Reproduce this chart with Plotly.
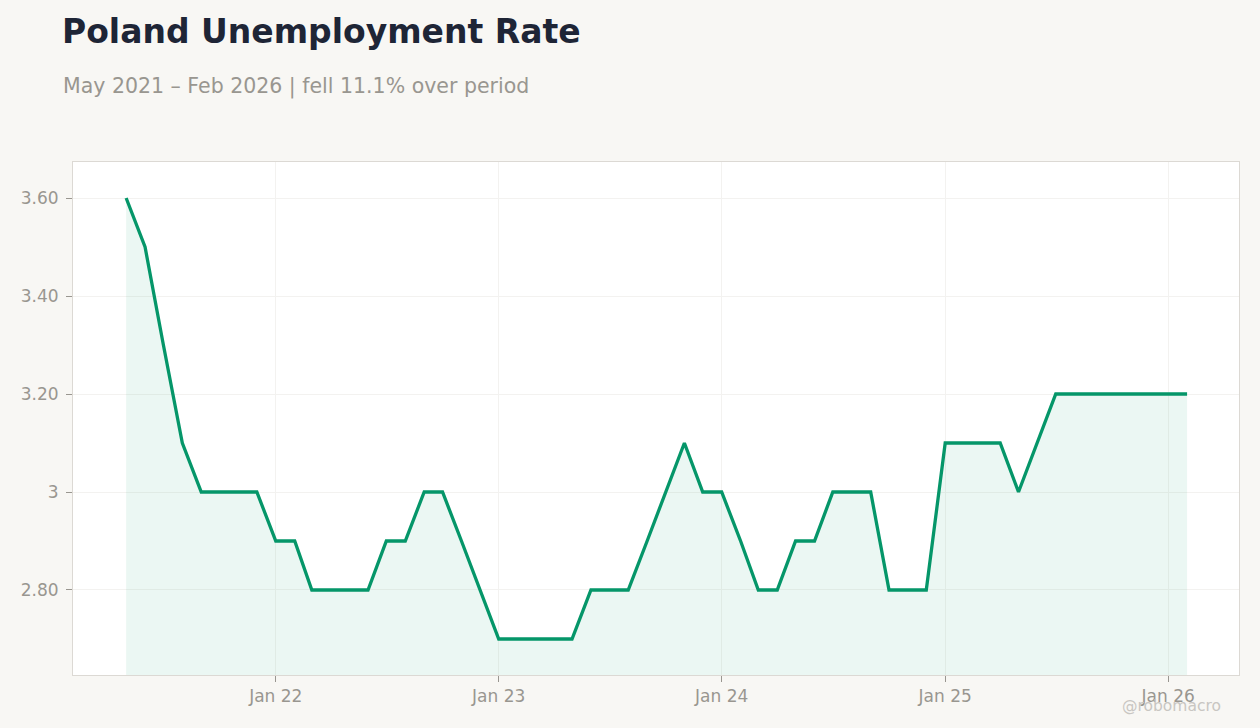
import plotly.graph_objects as go
import pandas as pd

start_month = "2021-05-01"
values = [3.6, 3.5, 3.3, 3.1, 3.0, 3.0, 3.0, 3.0,
          2.9, 2.9, 2.8, 2.8, 2.8, 2.8, 2.9, 2.9, 3.0, 3.0, 2.9, 2.8,
          2.7, 2.7, 2.7, 2.7, 2.7, 2.8, 2.8, 2.8, 2.9, 3.0, 3.1, 3.0,
          3.0, 2.9, 2.8, 2.8, 2.9, 2.9, 3.0, 3.0, 3.0, 2.8, 2.8, 2.8,
          3.1, 3.1, 3.1, 3.1, 3.0, 3.1, 3.2, 3.2, 3.2, 3.2, 3.2, 3.2,
          3.2, 3.2]
dates = pd.date_range(start_month, periods=len(values), freq="MS")

ytick_vals = [2.8, 3.0, 3.2, 3.4, 3.6]
ytick_text = ["2.80", "3", "3.20", "3.40", "3.60"]

font = "DejaVu Sans"
line_color = "#059669"

fig = go.Figure()
fig.add_trace(go.Scatter(
    x=dates, y=values, mode="lines",
    line=dict(color=line_color, width=3.3),
    fill="tozeroy", fillcolor="rgba(5,150,105,0.08)",
    hoverinfo="x+y", showlegend=False,
))

fig.update_layout(
    width=1260, height=728,
    margin=dict(l=73, r=21, t=162, b=53),
    paper_bgcolor="#f8f7f4", plot_bgcolor="#ffffff",
    font=dict(family=font, color="#999690", size=17),
    title=dict(
        text="<b>Poland Unemployment Rate</b>",
        font=dict(family=font, size=33, color="#1e2536"),
        x=62/1260, xanchor="left", xref="container",
        y=1-31/728, yanchor="middle", yref="container",
    ),
    annotations=[
        dict(text="May 2021 – Feb 2026 | fell 11.1% over period",
             xref="paper", yref="paper", x=-12/1166, y=1+(162-86)/513,
             xanchor="left", yanchor="middle", showarrow=False,
             font=dict(family=font, size=20.5, color="#999690")),
        dict(text="@robomacro", xref="paper", yref="paper",
             x=1+(-16)/1166, y=-(706-675)/513, xanchor="right", yanchor="middle",
             showarrow=False, font=dict(family=font, size=15.5, color="#c8c6c2")),
    ],
    xaxis=dict(
        range=[pd.Timestamp("2021-02-03"), pd.Timestamp("2026-04-27")],
        dtick="M12", tick0="2022-01-01", tickformat="%b %y",
        showgrid=True, gridcolor="#f3f2f0", gridwidth=1,
        ticks="outside", ticklen=6, tickcolor="#999690",
        showline=True, linecolor="#dcd9d4", mirror=True, linewidth=1,
        zeroline=False, tickfont=dict(size=17, color="#999690"),
    ),
    yaxis=dict(
        range=[2.6265, 3.6735],
        tickvals=ytick_vals, ticktext=ytick_text,
        showgrid=True, gridcolor="#f3f2f0", gridwidth=1,
        ticks="outside", ticklen=6, tickcolor="#999690",
        showline=True, linecolor="#dcd9d4", mirror=True, linewidth=1,
        zeroline=False, tickfont=dict(size=17, color="#999690"),
        ticklabelstandoff=4,
    ),
)

fig.write_html("out.html")
